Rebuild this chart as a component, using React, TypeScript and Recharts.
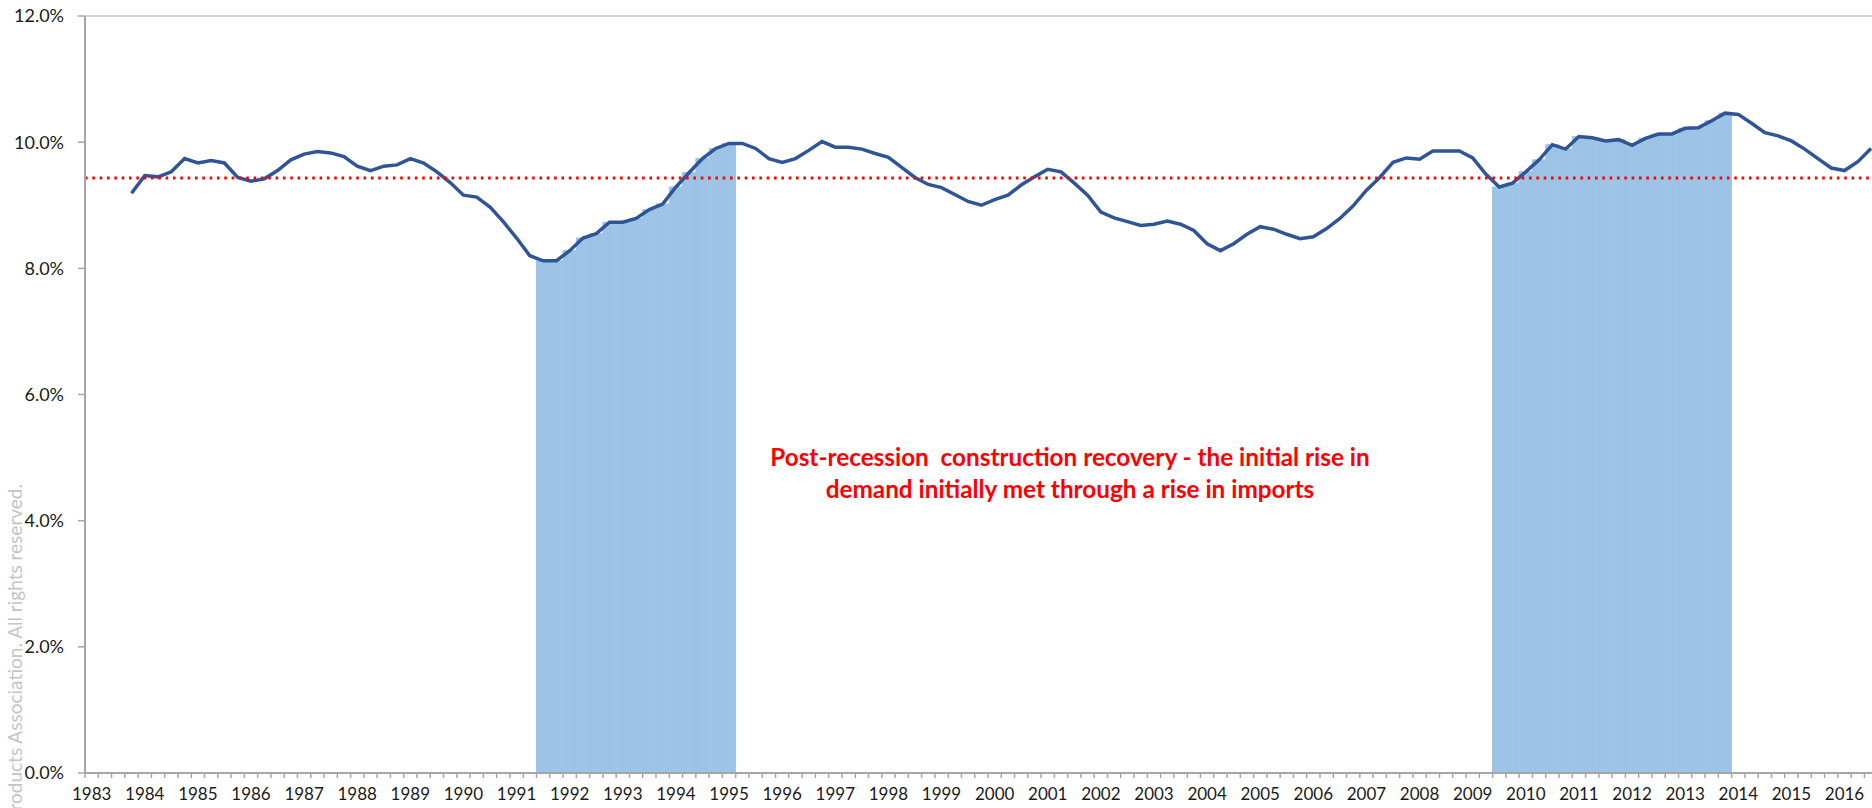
import React from 'react';
import { ComposedChart, Line, Bar, XAxis, YAxis, ReferenceLine } from 'recharts';

// quarterly share (%), 1983 Q1 .. 2016 Q4
const years = [
  1983, 1984, 1985, 1986, 1987, 1988, 1989, 1990, 1991, 1992, 1993, 1994,
  1995, 1996, 1997, 1998, 1999, 2000, 2001, 2002, 2003, 2004, 2005, 2006,
  2007, 2008, 2009, 2010, 2011, 2012, 2013, 2014, 2015, 2016,
];
const quarters = ['Q1', 'Q2', 'Q3', 'Q4'];

const importShare = [
  null, null, null, 9.19,
  9.47, 9.45, 9.53, 9.74,
  9.67, 9.71, 9.67, 9.44,
  9.38, 9.42, 9.55, 9.72,
  9.81, 9.85, 9.83, 9.77,
  9.62, 9.55, 9.62, 9.64,
  9.74, 9.67, 9.53, 9.36,
  9.16, 9.13, 8.97, 8.74,
  8.48, 8.2, 8.12, 8.12,
  8.28, 8.48, 8.55, 8.73,
  8.73, 8.79, 8.93, 9.02,
  9.29, 9.52, 9.74, 9.9,
  9.98, 9.98, 9.9, 9.74,
  9.68, 9.74, 9.87, 10.01,
  9.92, 9.92, 9.89, 9.82,
  9.76, 9.6, 9.44, 9.33,
  9.28, 9.17, 9.06, 9.0,
  9.09, 9.16, 9.32, 9.45,
  9.57, 9.53, 9.35, 9.16,
  8.89, 8.8, 8.74, 8.68,
  8.7, 8.75, 8.7, 8.6,
  8.39, 8.28, 8.39, 8.54,
  8.66, 8.62, 8.54, 8.47,
  8.5, 8.63, 8.79, 8.99,
  9.24, 9.44, 9.68, 9.75,
  9.73, 9.86, 9.86, 9.86,
  9.75, 9.49, 9.29, 9.35,
  9.53, 9.72, 9.96, 9.89,
  10.09, 10.07, 10.02, 10.04,
  9.95, 10.06, 10.13, 10.13,
  10.22, 10.23, 10.34, 10.46,
  10.44, 10.3, 10.15, 10.1,
  10.02, 9.89, 9.74, 9.59,
  9.55, 9.69, 9.9, null,
];

// post-recession recovery periods (shaded)
const recoveryPeriods = [
  ['1991 Q3', '1995 Q1'],
  ['2009 Q3', '2013 Q4'],
];
const averageShare = 9.43;
const yTicks = [0, 2, 4, 6, 8, 10, 12];

const categories = years.flatMap((y) => quarters.map((q) => `${y} ${q}`));

const data = categories.map((cat, i) => {
  const inRecovery = recoveryPeriods.some(
    ([a, b]) => i >= categories.indexOf(a) && i <= categories.indexOf(b)
  );
  return { cat, share: importShare[i], shade: inRecovery ? importShare[i] : null };
});

const FONT = "Lato, 'Gill Sans', sans-serif";
const AXIS = '#a6a6a6';
const SHADE = '#9dc3e6';
const CHART_W = 1900;
const Y_AXIS_W = 85;
const RIGHT = 9;
const BAND = (CHART_W - Y_AXIS_W - RIGHT) / categories.length;

function QuarterTick(props: any) {
  const { x, y, payload } = props;
  const [year, q] = String(payload.value).split(' ');
  return (
    <g>
      <line x1={x - BAND / 2} x2={x - BAND / 2} y1={y} y2={y + 5} stroke={AXIS} strokeWidth={1.5} />
      {q === 'Q1' && (
        <text x={x} y={y + 27} textAnchor="middle" fill="#1a1a1a" fontSize={17} fontFamily={FONT}>
          {year}
        </text>
      )}
    </g>
  );
}

export default function App() {
  return (
    <div
      style={{
        position: 'absolute',
        left: 0,
        top: 0,
        width: 1872,
        height: 808,
        overflow: 'hidden',
        background: '#fff',
        fontFamily: FONT,
      }}
    >
      <ComposedChart
        width={CHART_W}
        height={808}
        data={data}
        margin={{ top: 16, right: RIGHT, left: 0, bottom: 0 }}
        barCategoryGap={0}
        barGap={0}
      >
        <XAxis
          dataKey="cat"
          interval={0}
          height={35}
          tickSize={0}
          tickMargin={0}
          tickLine={false}
          axisLine={{ stroke: AXIS, strokeWidth: 2 }}
          tick={<QuarterTick />}
        />
        <YAxis
          domain={[0, 12]}
          ticks={yTicks}
          interval={0}
          width={Y_AXIS_W}
          tickSize={7}
          tickMargin={14}
          axisLine={{ stroke: AXIS, strokeWidth: 2 }}
          tickLine={{ stroke: AXIS, strokeWidth: 1.5 }}
          tick={{ fill: '#1a1a1a', fontSize: 18, fontFamily: FONT }}
          tickFormatter={(v: number) => `${v.toFixed(1)}%`}
        />
        <ReferenceLine y={12} stroke="#c8c8c8" strokeWidth={1.5} />
        <Bar
          dataKey="shade"
          fill={SHADE}
          stroke={SHADE}
          strokeWidth={1}
          isAnimationActive={false}
        />
        <Line
          type="linear"
          dataKey="share"
          stroke="#2f5597"
          strokeWidth={3.5}
          dot={false}
          activeDot={false}
          isAnimationActive={false}
        />
        <ReferenceLine
          y={averageShare}
          stroke="#ff0000"
          strokeWidth={3}
          strokeDasharray="2.6 4.73"
        />
      </ComposedChart>

      <div
        style={{
          position: 'absolute',
          left: 570,
          top: 441,
          width: 1000,
          textAlign: 'center',
          color: '#ff0000',
          fontWeight: 700,
          fontSize: 24.3,
          lineHeight: '32px',
          whiteSpace: 'pre',
        }}
      >
        {'Post-recession  construction recovery - the initial rise in\ndemand initially met through a rise in imports'}
      </div>

      <svg style={{ position: 'absolute', left: 0, top: 0 }} width={40} height={808}>
        <text
          transform="translate(22,484) rotate(-90)"
          textAnchor="end"
          fill="#c4c4c4"
          fontSize={19}
          fontFamily={FONT}
        >
          © Construction Products Association. All rights reserved.
        </text>
      </svg>
    </div>
  );
}
